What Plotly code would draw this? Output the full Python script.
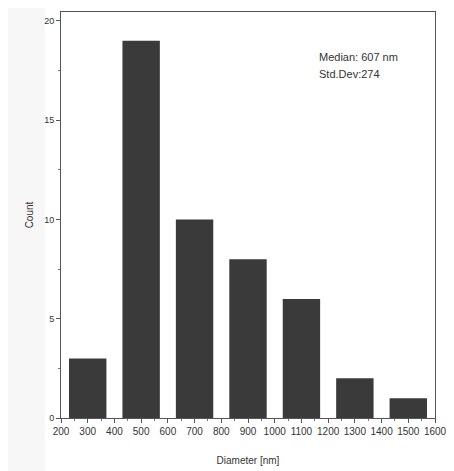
import plotly.graph_objects as go

centers = [300, 500, 700, 900, 1100, 1300, 1500]
counts = [3, 19, 10, 8, 6, 2, 1]
x_ticks = list(range(200, 1601, 100))
y_ticks = [0, 5, 10, 15, 20]

font_family = "Liberation Sans Narrow, Arial Narrow, Liberation Sans, Arial"

fig = go.Figure()
fig.add_trace(go.Bar(
    x=centers, y=counts, width=140,
    marker=dict(color="#3a3a3a", line=dict(width=0)),
))

fig.update_layout(
    width=446, height=463,
    margin=dict(l=53, r=19, t=4, b=53),
    paper_bgcolor="white", plot_bgcolor="white",
    showlegend=False,
    font=dict(family=font_family, size=10, color="#333"),
    annotations=[
        dict(x=0.685, y=0.89, xref="paper", yref="paper", xanchor="left", yanchor="middle",
             text="Median: 607 nm", showarrow=False, font=dict(size=11, color="#333")),
        dict(x=0.685, y=0.848, xref="paper", yref="paper", xanchor="left", yanchor="middle",
             text="Std.Dev:274", showarrow=False, font=dict(size=11, color="#333")),
    ],
    shapes=[
        dict(type="rect", xref="paper", yref="paper", x0=-0.15, x1=-0.043, y0=-0.2, y1=1.02,
             fillcolor="#f7f7f7", line=dict(width=0), layer="below"),
    ],
)
fig.update_xaxes(
    range=[200, 1600], tickvals=x_ticks, ticktext=[str(v) for v in x_ticks],
    showgrid=False, zeroline=False, showline=True, linecolor="#555", linewidth=1,
    mirror=True, ticks="outside", ticklen=4, tickcolor="#555",
    minor=dict(ticks="outside", ticklen=2, dtick=50, tickcolor="#777"),
    title=dict(text="Diameter [nm]", standoff=20, font=dict(size=10)),
    tickfont=dict(size=10),
)
fig.update_yaxes(
    range=[0, 20.45], tickvals=y_ticks,
    showgrid=False, zeroline=False, showline=True, linecolor="#555", linewidth=1,
    mirror=True, ticks="outside", ticklen=4, tickcolor="#555",
    minor=dict(ticks="outside", ticklen=2, dtick=2.5, tickcolor="#777"),
    title=dict(text="Count", standoff=8, font=dict(size=10)),
    tickfont=dict(size=9),
)

fig.write_html("out.html")
